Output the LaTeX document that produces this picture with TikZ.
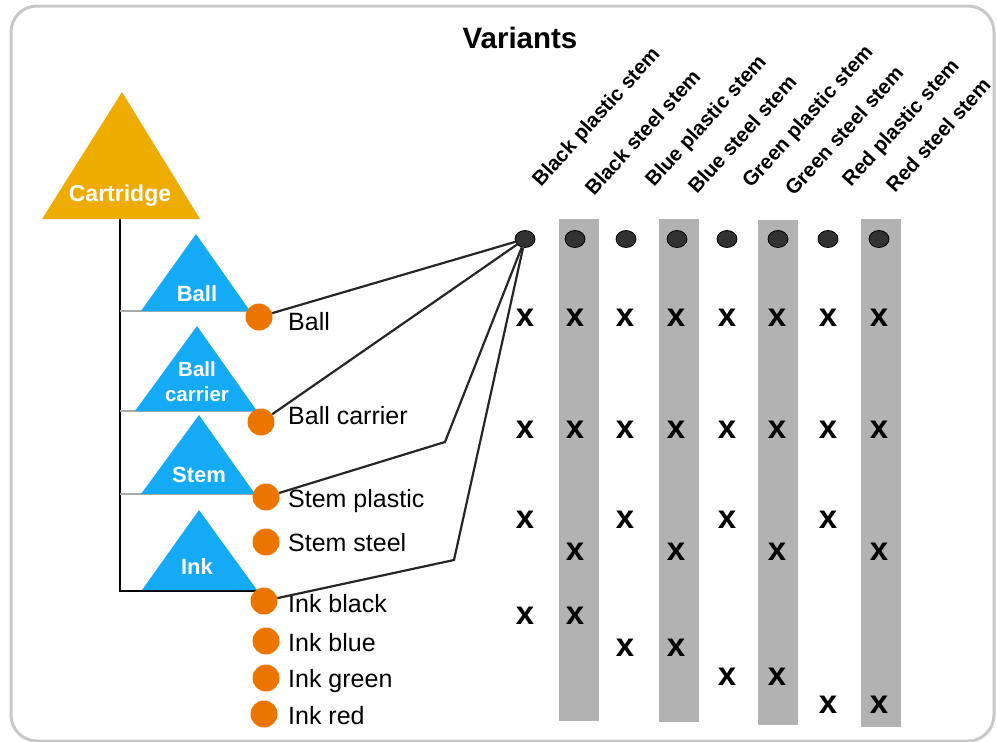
\documentclass[tikz,border=0pt]{standalone}
\usepackage{fontspec}
\setmainfont{Liberation Sans}
\usetikzlibrary{shapes.geometric}
\definecolor{cartorange}{RGB}{239,172,0}
\definecolor{partblue}{RGB}{20,170,245}
\definecolor{featorange}{RGB}{236,116,0}
\definecolor{colgray}{RGB}{178,178,178}
\definecolor{framegray}{RGB}{200,200,200}
\definecolor{treegray}{RGB}{170,170,170}
\definecolor{dotgray}{RGB}{50,50,50}
\begin{document}
\begin{tikzpicture}[x=1pt,y=-1pt,
  feat/.style={circle,fill=featorange,minimum size=27pt,inner sep=0pt},
  flabel/.style={anchor=west,inner sep=0pt,font=\fontsize{25}{28}\selectfont},
  tlabel/.style={text=white,font=\bfseries\fontsize{22}{24}\selectfont,align=center,inner sep=0pt},
  vdot/.style={ellipse,draw=black,fill=dotgray,minimum width=20pt,minimum height=17pt,inner sep=0pt,line width=0.8pt},
  xmark/.style={font=\bfseries\fontsize{33}{33}\selectfont,inner sep=0pt},
  vhead/.style={rotate=48,anchor=base west,inner sep=0pt,font=\bfseries\fontsize{20.5}{22}\selectfont},
  colbar/.style={fill=colgray,draw=none},
  fan/.style={draw=black!85,line width=2.2pt},
  treeline/.style={draw=treegray,line width=2.8pt},
]
\useasboundingbox (0,0) rectangle (997,742);
\draw[framegray,line width=3pt,rounded corners=26pt] (11,6) rectangle (994,741);

% title
\node[font=\bfseries\fontsize{29.5}{32}\selectfont] (title) at (520,38) {Variants};

% grey columns
\fill[colbar] (559,219) rectangle (599,721);
\fill[colbar] (659,219) rectangle (699,722);
\fill[colbar] (758,220) rectangle (798,725);
\fill[colbar] (861,219) rectangle (901,727);

% column headers
\node[vhead] (h1) at (541,188) {Black plastic stem};
\node[vhead] (h2) at (594,197) {Black steel stem};
\node[vhead] (h3) at (654,188) {Blue plastic stem};
\node[vhead] (h4) at (697,195) {Blue steel stem};
\node[vhead] (h5) at (751,189) {Green plastic stem};
\node[vhead] (h6) at (794,197) {Green steel stem};
\node[vhead] (h7) at (851,188) {Red plastic stem};
\node[vhead] (h8) at (895,194) {Red steel stem};

% variant dots
\foreach \i/\x in {1/525,2/575,3/626,4/677,5/727,6/778,7/828,8/879}
  \node[vdot] (v\i) at (\x,239) {};

% tree
\draw[black,line width=2.6pt] (120,218) -- (120,591) -- (262,591);
\draw[treeline] (120,311) -- (256,311);
\draw[treeline] (120,411) -- (258,411);
\draw[treeline] (120,494) -- (262,494);

% triangles
\fill[cartorange] (122,92) -- (200,219) -- (42,219) -- cycle;
\fill[partblue] (196,234) -- (250,311) -- (141,311) -- cycle;
\fill[partblue] (197,326) -- (257,411) -- (135,411) -- cycle;
\fill[partblue] (199,415) -- (255,494) -- (141,494) -- cycle;
\fill[partblue] (199,510) -- (257,590) -- (142,590) -- cycle;

\node[tlabel,font=\bfseries\fontsize{23}{24}\selectfont] (tcart) at (120,196) {Cartridge};
\node[tlabel] (tball) at (197,294) {Ball};
\node[tlabel,font=\bfseries\fontsize{20.5}{25}\selectfont] (tcarrier) at (197,382) {Ball\\carrier};
\node[tlabel] (tstem) at (199,475) {Stem};
\node[tlabel] (tink) at (197,567) {Ink};

% features
\node[feat] (fball) at (259,317) {};
\node[feat] (fcarrier) at (261,422) {};
\node[feat] (fsp) at (266,497) {};
\node[feat] (fss) at (266,542) {};
\node[feat] (fib) at (264,601) {};
\node[feat] (fiu) at (266,641) {};
\node[feat] (fig) at (266,678) {};
\node[feat] (fir) at (264,714) {};

\node[flabel] (lball) at (288,322) {Ball};
\node[flabel] (lcarrier) at (288,416) {Ball carrier};
\node[flabel] (lsp) at (288,501) {Stem plastic};
\node[flabel] (lss) at (288,543) {Stem steel};
\node[flabel] (lib) at (288,604) {Ink black};
\node[flabel] (liu) at (288,643) {Ink blue};
\node[flabel] (lig) at (288,681) {Ink green};
\node[flabel] (lir) at (288,716) {Ink red};

% fan connectors
\coordinate (b1) at (445,442);
\coordinate (b2) at (454,560);
\draw[fan] (fball) -- (v1);
\draw[fan] (fcarrier) -- (v1);
\draw[fan] (fsp) -- (b1) -- (v1);
\draw[fan] (fib) -- (b2) -- (v1);

% x marks
\foreach \x in {525,575,625,676,727,777,828,879} {
  \node[xmark] at (\x,318) {x};
  \node[xmark] at (\x,430) {x};
}
\foreach \x in {525,625,727,828} \node[xmark] at (\x,520) {x};
\foreach \x in {575,676,777,879} \node[xmark] at (\x,552) {x};
\node[xmark] at (525,616) {x};
\node[xmark] at (575,616) {x};
\node[xmark] at (625,648) {x};
\node[xmark] at (676,648) {x};
\node[xmark] at (727,677) {x};
\node[xmark] at (777,677) {x};
\node[xmark] at (828,705) {x};
\node[xmark] at (879,705) {x};
\end{tikzpicture}
\end{document}
